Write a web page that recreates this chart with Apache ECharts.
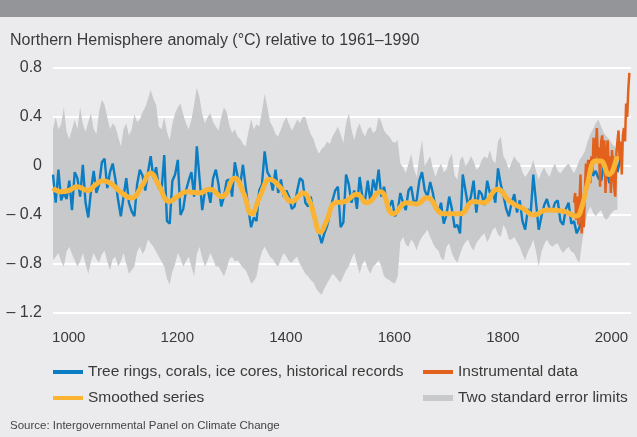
<!DOCTYPE html>
<html>
<head>
<meta charset="utf-8">
<script src="https://cdn.jsdelivr.net/npm/echarts@6/dist/echarts.min.js"></script>
<style>
  html, body { margin: 0; padding: 0; background: #ebebed; }
  #main { width: 637px; height: 437px; }
</style>
</head>
<body>
<div id="main"></div>
<script>
// proxy record: one value every 5 years, starting at proxyStart
var proxyStart = 971;
var proxyStep = 5;

var proxyValues = [
  -0.07,-0.30,-0.03,-0.28,-0.22,-0.27,-0.12,-0.36,-0.05,-0.10,
  -0.25,0.01,-0.30,-0.42,-0.20,-0.04,-0.22,-0.15,0.03,0.06,
  -0.18,-0.05,0.02,-0.11,-0.28,-0.41,-0.25,-0.10,-0.30,-0.37,
  -0.41,-0.15,-0.03,-0.08,-0.20,-0.05,0.08,-0.10,-0.01,-0.18,
  -0.20,0.09,-0.45,-0.47,-0.12,-0.07,0.05,-0.40,-0.35,-0.20,
  -0.12,-0.05,-0.25,0.16,-0.10,-0.36,-0.20,-0.19,-0.30,-0.10,
  -0.03,-0.15,-0.33,-0.25,-0.12,-0.11,-0.25,0.03,-0.08,-0.15,
  0.01,-0.17,-0.35,-0.50,-0.42,-0.45,-0.20,-0.15,0.12,-0.05,
  -0.09,-0.20,-0.03,-0.22,-0.11,-0.25,-0.20,-0.25,-0.35,-0.33,
  -0.20,-0.10,-0.12,-0.30,-0.33,-0.25,-0.40,-0.47,-0.55,-0.63,
  -0.55,-0.49,-0.40,-0.28,-0.20,-0.17,-0.50,-0.46,-0.07,-0.15,
  -0.30,-0.20,-0.35,-0.09,-0.25,-0.28,-0.12,-0.30,-0.11,-0.20,
  -0.03,-0.25,-0.17,-0.30,-0.33,-0.28,-0.41,-0.37,-0.22,-0.30,
  -0.36,-0.20,-0.17,-0.30,-0.28,-0.12,-0.05,-0.20,-0.25,-0.13,
  -0.22,-0.35,-0.38,-0.30,-0.47,-0.40,-0.25,-0.35,-0.50,-0.48,
  -0.55,-0.07,-0.20,-0.33,-0.25,-0.12,-0.38,-0.20,-0.23,-0.32,
  -0.12,-0.22,-0.20,-0.30,-0.02,-0.15,-0.24,-0.35,-0.41,-0.30,
  -0.23,-0.38,-0.28,-0.45,-0.52,-0.35,-0.40,-0.07,-0.30,-0.52,
  -0.41,-0.32,-0.27,-0.35,-0.37,-0.30,-0.28,-0.45,-0.48,-0.35,
  -0.30,-0.47,-0.45,-0.55,-0.50,-0.43,-0.25,-0.10,0.05,-0.08,
  -0.04,-0.10,-0.12,0.01,-0.02,-0.14,-0.05,0.08,-0.05,0.05
];

// two standard error limits, same 5-year spacing
var upperLimit = [
  0.30,0.40,0.30,0.34,0.48,0.28,0.22,0.30,0.38,0.30,
  0.48,0.34,0.28,0.36,0.43,0.30,0.26,0.45,0.54,0.50,
  0.40,0.30,0.35,0.32,0.24,0.16,0.30,0.35,0.25,0.30,
  0.42,0.36,0.38,0.44,0.48,0.55,0.62,0.55,0.50,0.32,
  0.30,0.40,0.28,0.21,0.35,0.43,0.48,0.51,0.42,0.35,
  0.30,0.38,0.50,0.64,0.56,0.42,0.35,0.40,0.43,0.36,
  0.32,0.29,0.40,0.48,0.44,0.33,0.27,0.30,0.24,0.22,
  0.18,0.16,0.28,0.38,0.30,0.34,0.32,0.45,0.59,0.48,
  0.36,0.32,0.26,0.24,0.30,0.36,0.40,0.34,0.29,0.33,
  0.38,0.35,0.40,0.40,0.32,0.26,0.22,0.15,0.10,0.14,
  0.16,0.20,0.18,0.24,0.28,0.32,0.26,0.19,0.35,0.43,
  0.30,0.21,0.30,0.35,0.28,0.24,0.30,0.32,0.27,0.29,
  0.40,0.36,0.29,0.26,0.24,0.20,0.19,0.21,0.02,-0.01,
  -0.06,0.02,0.10,-0.02,-0.09,0.08,0.21,0.00,0.04,0.08,
  -0.02,-0.09,-0.02,0.02,-0.05,-0.03,0.06,0.10,-0.08,-0.11,
  0.05,0.08,0.00,0.03,0.08,0.04,-0.03,-0.01,0.05,0.08,
  0.06,0.13,0.05,0.02,0.20,0.24,0.08,0.04,-0.03,0.03,
  0.08,0.04,0.02,-0.05,-0.09,-0.06,-0.02,0.05,-0.04,-0.11,
  -0.05,-0.01,-0.06,-0.09,-0.02,0.02,-0.04,-0.06,-0.03,0.00,
  0.02,-0.02,-0.06,-0.01,0.05,0.08,0.12,0.20,0.26,0.30,
  0.35,0.38,0.32,0.27,0.24,0.22,0.18,0.16,0.13
];
var lowerLimit = [
  -0.77,-0.74,-0.71,-0.78,-0.82,-0.70,-0.66,-0.72,-0.77,-0.82,
  -0.78,-0.71,-0.80,-0.88,-0.78,-0.71,-0.76,-0.79,-0.72,-0.69,
  -0.78,-0.85,-0.76,-0.74,-0.82,-0.78,-0.71,-0.80,-0.88,-0.85,
  -0.82,-0.70,-0.66,-0.72,-0.68,-0.60,-0.63,-0.66,-0.70,-0.74,
  -0.78,-0.82,-0.92,-0.97,-0.86,-0.80,-0.71,-0.76,-0.82,-0.78,
  -0.74,-0.82,-0.90,-0.72,-0.66,-0.75,-0.82,-0.77,-0.71,-0.76,
  -0.82,-0.82,-0.86,-0.90,-0.84,-0.76,-0.74,-0.78,-0.77,-0.80,
  -0.83,-0.85,-0.90,-0.96,-0.94,-0.90,-0.78,-0.70,-0.66,-0.70,
  -0.74,-0.76,-0.80,-0.82,-0.76,-0.71,-0.74,-0.78,-0.79,-0.76,
  -0.74,-0.80,-0.84,-0.88,-0.90,-0.93,-0.95,-1.00,-1.03,-1.05,
  -1.00,-0.96,-0.92,-0.88,-0.90,-0.93,-0.95,-0.90,-0.85,-0.82,
  -0.76,-0.71,-0.80,-0.88,-0.80,-0.77,-0.84,-0.88,-0.82,-0.80,
  -0.77,-0.82,-0.90,-0.92,-0.93,-0.95,-0.96,-0.90,-0.62,-0.58,
  -0.64,-0.66,-0.60,-0.63,-0.69,-0.62,-0.58,-0.55,-0.52,-0.58,
  -0.63,-0.67,-0.69,-0.75,-0.77,-0.66,-0.63,-0.71,-0.76,-0.79,
  -0.72,-0.66,-0.62,-0.60,-0.66,-0.69,-0.63,-0.60,-0.57,-0.55,
  -0.62,-0.58,-0.52,-0.50,-0.56,-0.58,-0.48,-0.52,-0.60,-0.60,
  -0.58,-0.62,-0.66,-0.72,-0.77,-0.70,-0.66,-0.60,-0.70,-0.82,
  -0.70,-0.64,-0.60,-0.64,-0.66,-0.64,-0.63,-0.68,-0.71,-0.68,
  -0.66,-0.70,-0.71,-0.76,-0.79,-0.62,-0.48,-0.38,-0.33,-0.38,
  -0.41,-0.38,-0.36,-0.42,-0.44,-0.41,-0.38,-0.36,-0.36
];

// smoothed series
var smoothYears = [971,985,1000,1015,1035,1050,1063,1080,1095,1116,1134,1151,1165,1186,1200,1217,1240,1260,1282,1306,1322,1337,1352,1371,1389,1411,1432,1445,1453,1463,1475,1491,1509,1531,1549,1574,1598,1623,1641,1660,1691,1721,1746,1764,1790,1813,1838,1857,1881,1912,1935,1945,1955,1971,1980,1995,2010];
var smoothValues = [-0.18,-0.21,-0.20,-0.17,-0.20,-0.15,-0.12,-0.15,-0.21,-0.26,-0.17,-0.06,-0.15,-0.29,-0.25,-0.21,-0.22,-0.19,-0.25,-0.10,-0.22,-0.39,-0.25,-0.11,-0.17,-0.29,-0.22,-0.30,-0.42,-0.54,-0.45,-0.30,-0.29,-0.23,-0.30,-0.21,-0.39,-0.30,-0.31,-0.26,-0.39,-0.39,-0.29,-0.30,-0.19,-0.29,-0.35,-0.40,-0.36,-0.37,-0.41,-0.34,-0.16,0.04,0.04,-0.07,0.08];

// instrumental record
var instYears = [1931,1933,1935,1937,1939,1941,1943,1945,1947,1949,1951,1953,1955,1957,1959,1961,1963,1965,1967,1969,1971,1973,1975,1977,1979,1981,1983,1985,1987,1989,1991,1993,1995,1997,1999,2001,2003,2005,2007,2009,2011,2013,2015,2017,2019,2021,2023,2025,2027,2029,2031,2033];
var instValues = [-0.30,-0.22,-0.44,-0.25,-0.48,-0.30,-0.07,-0.55,-0.35,-0.50,-0.20,0.02,-0.10,0.05,-0.05,-0.14,0.08,-0.05,0.23,0.05,0.12,0.31,0.05,0.15,-0.17,0.20,0.25,0.00,0.21,-0.22,0.10,0.21,-0.05,0.08,-0.22,0.13,-0.05,-0.17,-0.25,0.10,0.20,0.29,0.05,0.20,-0.07,0.25,0.31,0.20,0.51,0.40,0.62,0.76];

var yearLabels = [1000, 1200, 1400, 1600, 1800, 2000];

var FONT = "'Liberation Sans', Arial, sans-serif";
var TXT = '#3a3a3a';
var GREY = '#c8c9cb';

function pairs(start, step, vals) {
  return vals.map(function (v, i) { return [start + i * step, v]; });
}
function zipPairs(xs, ys) {
  return xs.map(function (x, i) { return [x, ys[i]]; });
}

var NAME_PROXY = 'Tree rings, corals, ice cores, historical records';
var NAME_INST = 'Instrumental data';
var NAME_SMOOTH = 'Smoothed series';
var NAME_BAND = 'Two standard error limits';

function legendAt(left, top, name, h) {
  return {
    left: left, top: top, orient: 'horizontal',
    data: [{ name: name, icon: 'rect' }],
    itemWidth: 30, itemHeight: h, selectedMode: false,
    textStyle: { fontFamily: FONT, fontSize: 15.5, color: TXT, lineHeight: 20 }
  };
}

// error band as one polygon: upper limits left to right, lower limits back
function renderBand(params, api) {
  var pts = [];
  for (var i = 0; i < upperLimit.length; i++) {
    pts.push(api.coord([proxyStart + i * proxyStep, upperLimit[i]]));
  }
  for (var j = lowerLimit.length - 1; j >= 0; j--) {
    pts.push(api.coord([proxyStart + j * proxyStep, lowerLimit[j]]));
  }
  return { type: 'polygon', shape: { points: pts }, style: { fill: GREY } };
}

var myChart = echarts.init(document.getElementById('main'), null, { renderer: 'canvas' });

var option = {
  backgroundColor: '#ebebed',
  animation: false,
  graphic: [
    { type: 'rect', left: 0, top: 0, shape: { width: 637, height: 17 }, style: { fill: '#939598' } },
    { type: 'text', left: 10, top: 33,
      style: { text: 'Northern Hemisphere anomaly (°C) relative to 1961–1990', font: '16px ' + FONT, fill: TXT } },
    { type: 'text', left: 10, top: 420,
      style: { text: 'Source: Intergovernmental Panel on Climate Change', font: '11.5px ' + FONT, fill: '#444' } }
  ],
  legend: [
    legendAt(48, 357, NAME_PROXY, 4),
    legendAt(48, 383, NAME_SMOOTH, 4),
    legendAt(418, 357, NAME_INST, 4),
    legendAt(418, 383, NAME_BAND, 6)
  ],
  grid: { left: 53, right: 6, top: 68, bottom: 124, containLabel: false },
  xAxis: {
    type: 'value', min: 971, max: 2036,
    axisLine: { show: false }, axisTick: { show: false }, splitLine: { show: false },
    axisLabel: {
      customValues: yearLabels, margin: 17, fontFamily: FONT, fontSize: 15, color: TXT,
      formatter: function (v) { return String(v); }
    }
  },
  yAxis: {
    type: 'value', min: -1.2, max: 0.8, interval: 0.4,
    axisLine: { show: false }, axisTick: { show: false },
    splitLine: { lineStyle: { color: '#ffffff', width: 2 } },
    axisLabel: {
      margin: 11, fontFamily: FONT, fontSize: 16, color: TXT,
      formatter: function (v) {
        if (Math.abs(v) < 1e-9) return '0';
        return v.toFixed(1).replace('-', '– ');
      }
    }
  },
  series: [
    {
      name: NAME_BAND, type: 'custom', coordinateSystem: 'cartesian2d',
      data: [[proxyStart, 0]], renderItem: renderBand,
      color: GREY, itemStyle: { color: GREY }, silent: true
    },
    {
      name: NAME_PROXY, type: 'line', data: pairs(proxyStart, proxyStep, proxyValues),
      symbol: 'none', color: '#0a7dc3', lineStyle: { color: '#0a7dc3', width: 2.4 }
    },
    {
      name: NAME_INST, type: 'line', data: zipPairs(instYears, instValues),
      symbol: 'none', color: '#e2621d', lineStyle: { color: '#e2621d', width: 2.5 }
    },
    {
      name: NAME_SMOOTH, type: 'line', data: zipPairs(smoothYears, smoothValues),
      symbol: 'none', smooth: 0.5, color: '#fbb334', lineStyle: { color: '#fbb334', width: 5 }
    }
  ]
};
myChart.setOption(option, true);
</script>
</body>
</html>
